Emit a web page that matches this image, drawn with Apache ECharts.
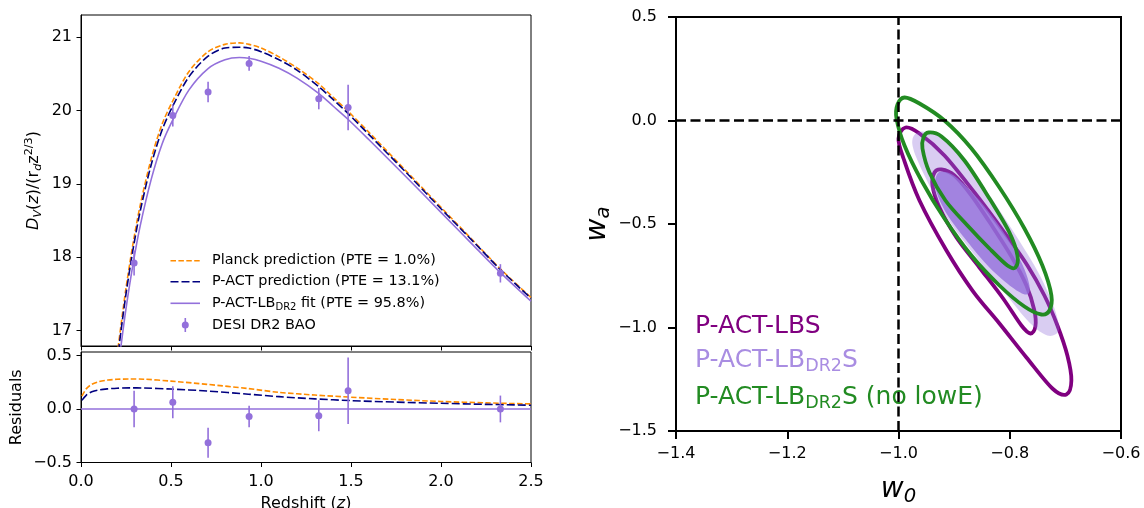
<!DOCTYPE html>
<html><head><meta charset="utf-8">
<script src="https://cdn.jsdelivr.net/npm/echarts@6/dist/echarts.min.js"></script>
<style>html,body{margin:0;padding:0;background:#fff}#c{width:1144px;height:508px}</style>
</head><body><div id="c"></div>
<script>
// ---------------- data ----------------
// Left panel: D_V(z)/(r_d z^{2/3}) model curves
const zCurve      = [0.2, 0.222, 0.25, 0.29, 0.33, 0.39, 0.45, 0.51, 0.6, 0.706, 0.8, 0.88, 0.933, 1.0, 1.1, 1.2, 1.322, 1.4, 1.483, 1.6, 1.8, 2.0, 2.2, 2.33, 2.5];
const fitCurve    = [16.37, 16.79, 17.30, 17.92, 18.44, 19.06, 19.54, 19.87, 20.28, 20.57, 20.69, 20.72, 20.71, 20.67, 20.575, 20.44, 20.23, 20.06, 19.88, 19.60, 19.11, 18.61, 18.11, 17.79, 17.40];
const planckCurve = [16.65, 17.07, 17.58, 18.20, 18.72, 19.34, 19.81, 20.13, 20.53, 20.80, 20.90, 20.92, 20.90, 20.85, 20.73, 20.58, 20.36, 20.18, 19.99, 19.70, 19.19, 18.68, 18.17, 17.84, 17.45];
const pactCurve   = [16.56, 16.99, 17.50, 18.12, 18.64, 19.26, 19.73, 20.06, 20.46, 20.74, 20.85, 20.86, 20.85, 20.80, 20.69, 20.55, 20.32, 20.15, 19.96, 19.67, 19.17, 18.66, 18.16, 17.83, 17.44];
// residual curves (model - fit)
const zRes      = [0.005, 0.03, 0.06, 0.1, 0.15, 0.2, 0.27, 0.35, 0.5, 0.7, 0.93, 1.1, 1.3, 1.5, 1.75, 2.0, 2.25, 2.5];
const planckRes = [0.12, 0.19, 0.23, 0.255, 0.27, 0.277, 0.28, 0.278, 0.26, 0.23, 0.19, 0.155, 0.13, 0.11, 0.088, 0.07, 0.057, 0.047];
const pactRes   = [0.08, 0.13, 0.16, 0.178, 0.188, 0.194, 0.197, 0.196, 0.186, 0.168, 0.138, 0.115, 0.094, 0.078, 0.064, 0.053, 0.043, 0.035];
const zFitRes   = [0, 2.5];
const fitRes    = [0, 0];
// DESI DR2 BAO points
const zData   = [0.295, 0.51, 0.706, 0.934, 1.321, 1.484, 2.33];
const dvData  = [17.92, 19.93, 20.25, 20.64, 20.16, 20.04, 17.78];
const dvErr   = [0.17, 0.15, 0.14, 0.10, 0.145, 0.31, 0.125];
const resData = [0.0, 0.063, -0.316, -0.07, -0.063, 0.17, 0.0];
// ticks
const zTicks    = [0, 0.5, 1.0, 1.5, 2.0, 2.5];
const dvTicks   = [17, 18, 19, 20, 21];
const resTicks  = [-0.5, 0.0, 0.5];
const w0Ticks   = [-1.4, -1.2, -1.0, -0.8, -0.6];
const waTicks   = [-1.5, -1.0, -0.5, 0.0, 0.5];
// Right panel contours [w0, wa]
const lbsOuter = [[-0.9874,-0.0338],[-0.9623,-0.0628],[-0.9174,-0.1691],[-0.8635,-0.3478],[-0.8096,-0.5411],[-0.7682,-0.7005],[-0.7377,-0.8454],[-0.7143,-0.9903],[-0.6964,-1.1353],[-0.6892,-1.2560],[-0.6982,-1.3237],[-0.7233,-1.2947],[-0.7700,-1.1449],[-0.8185,-0.9807],[-0.8670,-0.8213],[-0.9138,-0.6280],[-0.9623,-0.3865],[-0.9910,-0.1836],[-1.0000,-0.0870]];
const lbsInner = [[-0.9227,-0.2367],[-0.8994,-0.2657],[-0.8688,-0.3623],[-0.8311,-0.5121],[-0.7970,-0.6570],[-0.7700,-0.7971],[-0.7557,-0.9179],[-0.7539,-0.9952],[-0.7628,-1.0290],[-0.7790,-0.9903],[-0.8132,-0.8551],[-0.8545,-0.7101],[-0.8958,-0.5652],[-0.9263,-0.4203],[-0.9389,-0.3140],[-0.9353,-0.2512]];
const dr2Outer = [[-0.9659,-0.0580],[-0.9353,-0.0676],[-0.8994,-0.1353],[-0.8545,-0.2899],[-0.8006,-0.5072],[-0.7557,-0.7005],[-0.7287,-0.8454],[-0.7143,-0.9565],[-0.7125,-1.0193],[-0.7323,-1.0386],[-0.7646,-0.9758],[-0.8096,-0.8309],[-0.8599,-0.6618],[-0.9120,-0.4734],[-0.9533,-0.2657],[-0.9748,-0.1208]];
const dr2Inner = [[-0.9209,-0.2464],[-0.8958,-0.2754],[-0.8545,-0.3865],[-0.8132,-0.5314],[-0.7790,-0.6860],[-0.7646,-0.7971],[-0.7700,-0.8406],[-0.7952,-0.8068],[-0.8365,-0.7101],[-0.8778,-0.5797],[-0.9138,-0.4493],[-0.9335,-0.3285],[-0.9317,-0.2657]];
const noLowEOuter = [[-0.9892,0.1111],[-0.9623,0.0821],[-0.9174,0.0],[-0.8688,-0.1353],[-0.8185,-0.3237],[-0.7736,-0.5217],[-0.7413,-0.7005],[-0.7251,-0.8454],[-0.7287,-0.9179],[-0.7431,-0.9372],[-0.7736,-0.8986],[-0.8185,-0.7971],[-0.8688,-0.6522],[-0.9174,-0.4734],[-0.9587,-0.2899],[-0.9892,-0.1208],[-1.0036,0.0097],[-1.0018,0.0773]];
const noLowEInner = [[-0.9461,-0.0580],[-0.9227,-0.0773],[-0.8814,-0.1932],[-0.8365,-0.3768],[-0.8006,-0.5411],[-0.7862,-0.6522],[-0.7898,-0.7101],[-0.8042,-0.7005],[-0.8365,-0.6184],[-0.8760,-0.5072],[-0.9156,-0.3865],[-0.9443,-0.2512],[-0.9569,-0.1353],[-0.9551,-0.0821]];
const refW0 = -1.0;
const refWa = 0.0;
const w0Range = [-1.4, -0.6];
const waRange = [-1.5, 0.5];

// ---------------- styling ----------------
const FONT = 'DejaVu Sans';
const ORANGE = '#ff8c00', NAVY = '#000080', MPURPLE = '#9370db', PURPLE = '#800080', GREEN = '#228b22';
const fmt1 = v => (v < 0 ? '\u2212' : '') + Math.abs(v).toFixed(1);
const fmtInt = v => String(Math.round(v));

function valAxis(o) {
  const lw = o.lw || 1;
  return {
    type: 'value', gridIndex: o.grid, min: o.min, max: o.max, scale: true,
    name: o.name || '', nameLocation: 'middle', nameGap: o.nameGap || 0, nameRotate: o.nameRotate || 0,
    nameTextStyle: o.nameStyle || {},
    axisLine: {show: true, onZero: false, lineStyle: {color: '#000', width: lw}},
    axisTick: {show: true, inside: false, length: o.tickLen || 4.5, customValues: o.ticks, lineStyle: {color: '#000', width: lw}},
    axisLabel: {show: o.labels !== false, customValues: o.ticks, formatter: o.fmt, margin: o.margin || 9,
      color: '#000', fontFamily: FONT, fontSize: 16},
    splitLine: {show: false}
  };
}

const curveLine = (xi, xs, ys, color, dash, z) => ({
  type: 'line', xAxisIndex: xi, yAxisIndex: xi, data: xs.map((x, i) => [x, ys[i]]),
  showSymbol: false, symbol: 'none', smooth: 0.3, clip: true, z: z, silent: true,
  lineStyle: {color: color, width: 1.6, type: dash ? dash : 'solid'}
});

function errorBars(idx, vals) {
  return {
    type: 'custom', xAxisIndex: idx, yAxisIndex: idx, silent: true, z: 8,
    data: zData.map((z, i) => [z, vals[i], dvErr[i]]),
    encode: {x: 0, y: 1},
    renderItem: (params, api) => {
      const x = api.value(0), y = api.value(1), e = api.value(2);
      const a = api.coord([x, y - e]), b = api.coord([x, y + e]);
      return {type: 'line', shape: {x1: a[0], y1: a[1], x2: b[0], y2: b[1]}, style: {stroke: MPURPLE, lineWidth: 1.6}};
    }
  };
}
const dots = (idx, vals) => ({
  type: 'scatter', xAxisIndex: idx, yAxisIndex: idx, silent: true, z: 9,
  data: zData.map((z, i) => [z, vals[i]]), symbol: 'circle', symbolSize: 7,
  itemStyle: {color: MPURPLE, opacity: 1}
});

// closed Catmull-Rom spline through the (pixel) points
function closedSpline(p) {
  const n = p.length;
  let d = 'M' + p[0][0].toFixed(2) + ',' + p[0][1].toFixed(2);
  for (let i = 0; i < n; i++) {
    const p0 = p[(i - 1 + n) % n], p1 = p[i], p2 = p[(i + 1) % n], p3 = p[(i + 2) % n];
    const c1 = [p1[0] + (p2[0] - p0[0]) / 6, p1[1] + (p2[1] - p0[1]) / 6];
    const c2 = [p2[0] - (p3[0] - p1[0]) / 6, p2[1] - (p3[1] - p1[1]) / 6];
    d += 'C' + c1[0].toFixed(2) + ',' + c1[1].toFixed(2) + ' ' + c2[0].toFixed(2) + ',' + c2[1].toFixed(2) + ' ' + p2[0].toFixed(2) + ',' + p2[1].toFixed(2);
  }
  return d + 'Z';
}

function contour(pts, style, z) {
  return {
    type: 'custom', xAxisIndex: 2, yAxisIndex: 2, silent: true, z: z,
    data: pts, encode: {x: 0, y: 1},
    renderItem: (params, api) => {
      if (params.dataIndex !== 0) return null;
      const p = pts.map(d => api.coord(d));
      return {type: 'path', shape: {pathData: closedSpline(p)}, style: style};
    }
  };
}

const richSmall = {
  i:   {fontFamily: FONT, fontStyle: 'italic', fontSize: 16, lineHeight: 20, color: '#000'},
  n:   {fontFamily: FONT, fontSize: 16, lineHeight: 20, color: '#000'},
  is:  {fontFamily: FONT, fontStyle: 'italic', fontSize: 11.2, lineHeight: 11, verticalAlign: 'bottom', color: '#000'},
  sup: {fontFamily: FONT, fontSize: 11.2, lineHeight: 11, verticalAlign: 'top', color: '#000'}
};
const richBig = {
  i:  {fontFamily: FONT, fontStyle: 'italic', fontSize: 28, lineHeight: 34, color: '#000'},
  is: {fontFamily: FONT, fontStyle: 'italic', fontSize: 19.6, lineHeight: 20, verticalAlign: 'bottom', color: '#000'}
};

const option = {
  animation: false,
  backgroundColor: '#fff',
  textStyle: {fontFamily: FONT},
  grid: [
    {left: 81, top: 15, width: 450, height: 331, show: true, borderColor: '#000', borderWidth: 1, backgroundColor: 'transparent', outerBoundsMode: 'none', containLabel: false},
    {left: 81, top: 352, width: 450, height: 110.5, show: true, borderColor: '#000', borderWidth: 1, backgroundColor: 'transparent', outerBoundsMode: 'none', containLabel: false},
    {left: 676, top: 17, width: 445, height: 414, show: true, borderColor: '#000', borderWidth: 2, backgroundColor: 'transparent', outerBoundsMode: 'none', containLabel: false}
  ],
  xAxis: [
    valAxis({grid: 0, min: 0, max: 2.5, ticks: zTicks, labels: false, fmt: fmt1}),
    valAxis({grid: 1, min: 0, max: 2.5, ticks: zTicks, fmt: fmt1, margin: 11,
      name: '{n|Redshift (}{i|z}{n|)}', nameGap: 31, nameStyle: {fontFamily: FONT, fontSize: 16, color: '#000', rich: richSmall}}),
    valAxis({grid: 2, min: w0Range[0], max: w0Range[1], ticks: w0Ticks, fmt: fmt1, margin: 15, lw: 2, tickLen: 8,
      name: '{i|w}{is|0}', nameGap: 42, nameStyle: {fontFamily: FONT, fontSize: 28, color: '#000', rich: richBig}})
  ],
  yAxis: [
    valAxis({grid: 0, min: 16.79, max: 21.3, ticks: dvTicks, fmt: fmtInt, margin: 9,
      name: '{i|D}{is|V}{n|(}{i|z}{n|)/(r}{is|d}{n|z}{sup|2/3}{n|)}', nameGap: 37, nameRotate: 90,
      nameStyle: {fontFamily: FONT, fontSize: 16, color: '#000', rich: richSmall}}),
    valAxis({grid: 1, min: -0.5, max: 0.532, ticks: resTicks, fmt: fmt1, margin: 9,
      name: 'Residuals', nameGap: 56, nameRotate: 90, nameStyle: {fontFamily: FONT, fontSize: 16, color: '#000'}}),
    valAxis({grid: 2, min: waRange[0], max: waRange[1], ticks: waTicks, fmt: fmt1, margin: 19, lw: 2, tickLen: 8,
      name: '{i|w}{is|a}', nameGap: 61, nameRotate: 90, nameStyle: {fontFamily: FONT, fontSize: 28, color: '#000', rich: richBig}})
  ],
  series: [
    curveLine(0, zCurve, planckCurve, ORANGE, [5.5, 2.4], 2),
    curveLine(0, zCurve, pactCurve, NAVY, [8, 3], 3),
    curveLine(0, zCurve, fitCurve, MPURPLE, null, 4),
    errorBars(0, dvData),
    dots(0, dvData),
    curveLine(1, zRes, planckRes, ORANGE, [5.5, 2.4], 2),
    curveLine(1, zRes, pactRes, NAVY, [8, 3], 3),
    curveLine(1, zFitRes, fitRes, MPURPLE, null, 4),
    errorBars(1, resData),
    dots(1, resData),
    contour(lbsOuter, {fill: 'none', stroke: PURPLE, lineWidth: 3.8}, 2),
    contour(lbsInner, {fill: 'none', stroke: PURPLE, lineWidth: 3.8}, 3),
    contour(dr2Outer, {fill: 'rgba(147,112,219,0.35)', stroke: 'none'}, 4),
    contour(dr2Inner, {fill: 'rgba(147,112,219,0.8)', stroke: 'none'}, 5),
    contour(noLowEOuter, {fill: 'none', stroke: GREEN, lineWidth: 3.8}, 6),
    contour(noLowEInner, {fill: 'none', stroke: GREEN, lineWidth: 3.8}, 7),
    {type: 'line', xAxisIndex: 2, yAxisIndex: 2, data: [[refW0, waRange[0]], [refW0, waRange[1]]], symbol: 'none', silent: true, z: 9,
      lineStyle: {color: '#000', width: 2.5, type: [10, 4.5]}},
    {type: 'line', xAxisIndex: 2, yAxisIndex: 2, data: [[w0Range[0], refWa], [w0Range[1], refWa]], symbol: 'none', silent: true, z: 9,
      lineStyle: {color: '#000', width: 2.5, type: [10, 4.5]}}
  ],
  graphic: [
    {type: 'line', shape: {x1: 170.5, y1: 260.7, x2: 200, y2: 260.7}, style: {stroke: ORANGE, lineWidth: 1.6, lineDash: [5.5, 2.4]}},
    {type: 'line', shape: {x1: 170.5, y1: 281.7, x2: 200, y2: 281.7}, style: {stroke: NAVY, lineWidth: 1.6, lineDash: [8, 3]}},
    {type: 'line', shape: {x1: 170.5, y1: 303.3, x2: 200, y2: 303.3}, style: {stroke: MPURPLE, lineWidth: 1.6}},
    {type: 'line', shape: {x1: 185.3, y1: 318, x2: 185.3, y2: 332}, style: {stroke: MPURPLE, lineWidth: 1.6}},
    {type: 'circle', shape: {cx: 185.3, cy: 325, r: 3.5}, style: {fill: MPURPLE}},
    {type: 'text', x: 212, y: 260.7, style: {text: 'Planck prediction (PTE = 1.0%)', fontFamily: FONT, fontSize: 14.4, fill: '#000', align: 'left', verticalAlign: 'middle'}},
    {type: 'text', x: 212, y: 281.7, style: {text: 'P-ACT prediction (PTE = 13.1%)', fontFamily: FONT, fontSize: 14.4, fill: '#000', align: 'left', verticalAlign: 'middle'}},
    {type: 'text', x: 212, y: 303.3, style: {text: '{n|P-ACT-LB}{s|DR2}{n| fit (PTE = 95.8%)}', fontFamily: FONT, fontSize: 14.4, fill: '#000', align: 'left', verticalAlign: 'middle',
      rich: {n: {fontFamily: FONT, fontSize: 14.4, lineHeight: 18, fill: '#000'}, s: {fontFamily: FONT, fontSize: 10, lineHeight: 11, verticalAlign: 'bottom', fill: '#000'}}}},
    {type: 'text', x: 212, y: 325, style: {text: 'DESI DR2 BAO', fontFamily: FONT, fontSize: 14.4, fill: '#000', align: 'left', verticalAlign: 'middle'}},
    {type: 'text', x: 695, y: 326.3, style: {text: 'P-ACT-LBS', fontFamily: FONT, fontSize: 25, fill: PURPLE, align: 'left', verticalAlign: 'middle'}},
    {type: 'text', x: 695, y: 360.6, style: {text: '{n|P-ACT-LB}{s|DR2}{n|S}', fontFamily: FONT, fontSize: 25, fill: '#a98de2', align: 'left', verticalAlign: 'middle',
      rich: {n: {fontFamily: FONT, fontSize: 25, lineHeight: 30, fill: '#a98de2'}, s: {fontFamily: FONT, fontSize: 17.5, lineHeight: 20, verticalAlign: 'bottom', fill: '#a98de2'}}}},
    {type: 'text', x: 695, y: 397, style: {text: '{n|P-ACT-LB}{s|DR2}{n|S (no lowE)}', fontFamily: FONT, fontSize: 25, fill: GREEN, align: 'left', verticalAlign: 'middle',
      rich: {n: {fontFamily: FONT, fontSize: 25, lineHeight: 30, fill: GREEN}, s: {fontFamily: FONT, fontSize: 17.5, lineHeight: 20, verticalAlign: 'bottom', fill: GREEN}}}}
  ]
};

const chart = echarts.init(document.getElementById('c'), null, {renderer: 'canvas'});
chart.setOption(option);
</script>
</body></html>
